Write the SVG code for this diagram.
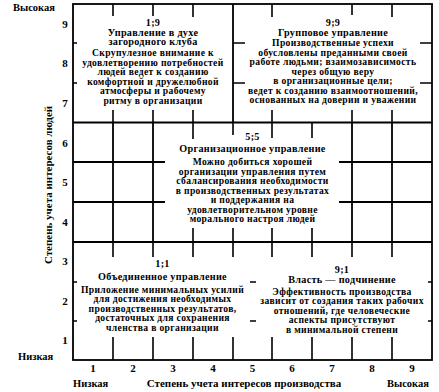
<svg xmlns="http://www.w3.org/2000/svg" width="439" height="392" viewBox="0 0 439 392">
<style>
.ln{stroke:#000;stroke-width:1.8;fill:none}
.tk{stroke:#000;stroke-width:1.6;fill:none}
text{font-family:"Liberation Serif","Times New Roman",serif;font-weight:bold;fill:#000}
.b{font-size:9.6px;letter-spacing:0.35px;text-anchor:middle}
.h{font-size:10.2px;letter-spacing:0.3px;text-anchor:middle}
.n{font-size:11px;text-anchor:middle}
.a{font-size:10.5px}
</style>
<rect width="439" height="392" fill="#fff"/>
<g id="grid">
<rect class="ln" x="73" y="4" width="359" height="356"/>
<path class="ln" d="M73 122.5H432M73 242H432M233 4V122.5"/>
<path class="ln" d="M113 122.5V242M153 122.5V242M352 122.5V242M392 122.5V242M73 162H165M73 202H165M339 162H432M339 202H432"/>
<path class="tk" d="M113 4V16M153 4V16M193 4V17M272 4V17M352 4V15M392 4V17
M113 110V122M153 110V122M193 110V122M272 110V122M352 110V122M392 110V122
M193 122V139M233 122V135M272 122V138M312 122V138
M193 228V242M233 228V242M272 228V242M312 228V242
M113 242V257M153 242V257M193 242V257M233 242V257M272 242V257M312 242V257M352 242V257M392 242V257
M113 337V360M153 337V360M193 337V360M233 337V360M272 337V360M312 337V360M352 337V360M392 337V360
M73 43H77M73 83H77M233 43H245M233 83H245M420 43H432M420 83H432
M73 282H77M73 321H77M250 282H256M250 321H256M428 282H432M428 321H432"/>
</g>
<g id="axes">
<text class="a" x="13" y="11">Высокая</text>
<text class="a" x="18" y="360">Низкая</text>
<text class="a" x="73" y="387">Низкая</text>
<text class="a" x="387" y="387">Высокая</text>
<text class="n" x="244" y="387">Степень учета интересов производства</text>
<text class="n" transform="translate(52,185) rotate(-90)">Степень учета интересов людей</text>
<g class="n">
<text x="65" y="28">9</text><text x="65" y="67">8</text><text x="65" y="107">7</text>
<text x="65" y="147">6</text><text x="65" y="186">5</text><text x="65" y="226">4</text>
<text x="65" y="265">3</text><text x="65" y="305">2</text><text x="65" y="344">1</text>
<text x="93" y="372">1</text><text x="133" y="372">2</text><text x="173" y="372">3</text>
<text x="213" y="372">4</text><text x="252.5" y="372">5</text><text x="292" y="372">6</text>
<text x="332" y="372">7</text><text x="372" y="372">8</text><text x="412" y="372">9</text>
</g>
</g>
<g id="style-1-9">
<text class="h" x="153" y="26">1;9</text>
<text class="h" x="153" y="35.5">Управление в духе</text>
<text class="h" x="153" y="45">загородного клуба</text>
<text class="b" x="153" y="56">Скрупулезное внимание к</text>
<text class="b" x="153" y="65.5">удовлетворению потребностей</text>
<text class="b" x="153" y="75">людей ведет к созданию</text>
<text class="b" x="153" y="84.5">комфортной и дружелюбной</text>
<text class="b" x="153" y="94">атмосферы и рабочему</text>
<text class="b" x="153" y="103.5">ритму в организации</text>
</g>
<g id="style-9-9">
<text class="h" x="333" y="26">9;9</text>
<text class="h" x="333" y="35.5">Групповое управление</text>
<text class="b" x="333" y="46">Производственные успехи</text>
<text class="b" x="333" y="55.5">обусловлены преданными своей</text>
<text class="b" x="333" y="65">работе людьми; взаимозависимость</text>
<text class="b" x="333" y="74.5">через общую веру</text>
<text class="b" x="333" y="84">в организационные цели;</text>
<text class="b" x="333" y="93.5">ведет к созданию взаимоотношений,</text>
<text class="b" x="333" y="103">основанных на доверии и уважении</text>
</g>
<g id="style-5-5">
<text class="h" x="252.5" y="140">5;5</text>
<text class="h" x="252.5" y="152">Организационное управление</text>
<text class="b" x="252.5" y="165">Можно добиться хорошей</text>
<text class="b" x="252.5" y="174.5">организации управления путем</text>
<text class="b" x="252.5" y="184">сбалансирования необходимости</text>
<text class="b" x="252.5" y="193.5">в производственных результатах</text>
<text class="b" x="252.5" y="203">и поддержания на</text>
<text class="b" x="252.5" y="212.5">удовлетворительном уровне</text>
<text class="b" x="252.5" y="222">морального настроя людей</text>
</g>
<g id="style-1-1">
<text class="h" x="162.5" y="266.5">1;1</text>
<text class="h" x="162.5" y="279.5">Объединенное управление</text>
<text class="b" x="162.5" y="292.5">Приложение минимальных усилий</text>
<text class="b" x="162.5" y="302">для достижения необходимых</text>
<text class="b" x="162.5" y="311.5">производственных результатов,</text>
<text class="b" x="162.5" y="321">достаточных для сохранения</text>
<text class="b" x="162.5" y="330.5">членства в организации</text>
</g>
<g id="style-9-1">
<text class="h" x="342" y="272.5">9;1</text>
<text class="h" x="342" y="283">Власть — подчинение</text>
<text class="b" x="342" y="294.5">Эффективность производства</text>
<text class="b" x="342" y="304">зависит от создания таких рабочих</text>
<text class="b" x="342" y="313.5">отношений, где человеческие</text>
<text class="b" x="342" y="323">аспекты присутствуют</text>
<text class="b" x="342" y="332.5">в минимальной степени</text>
</g>
</svg>
